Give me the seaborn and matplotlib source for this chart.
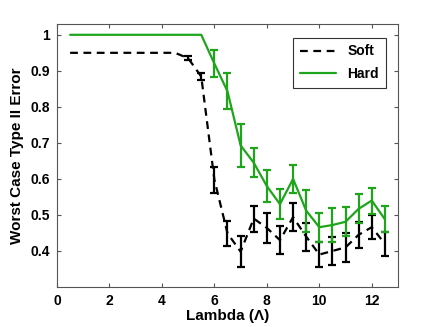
import numpy as np
import pandas as pd
import matplotlib
matplotlib.use("Agg")
import matplotlib.pyplot as plt
import seaborn as sns

sns.set_style("white", rc={
    'axes.labelcolor': 'black',
    'text.color': 'black',
    'xtick.color': 'black',
    'ytick.color': 'black',
})
plt.rcParams['font.family'] = ['Liberation Sans', 'DejaVu Sans']
plt.rcParams['font.weight'] = 'bold'

lam = [0.5, 1, 1.5, 2, 2.5, 3, 3.5, 4, 4.5, 5, 5.5, 6, 6.5, 7, 7.5, 8, 8.5,
       9, 9.5, 10, 10.5, 11, 11.5, 12, 12.5]

soft = [0.95, 0.95, 0.95, 0.95, 0.95, 0.95, 0.95, 0.95, 0.95, 0.935, 0.884,
        0.598, 0.449, 0.398, 0.49, 0.464, 0.43, 0.494, 0.44, 0.39, 0.40,
        0.41, 0.445, 0.466, 0.42]
soft_err = [0, 0, 0, 0, 0, 0, 0, 0, 0, 0.005, 0.01,
            0.036, 0.035, 0.043, 0.036, 0.041, 0.038, 0.038, 0.039, 0.034,
            0.04, 0.04, 0.036, 0.034, 0.033]

hard = [1, 1, 1, 1, 1, 1, 1, 1, 1, 1, 1,
        0.92, 0.843, 0.693, 0.645, 0.58, 0.53, 0.6, 0.512, 0.466, 0.472,
        0.481, 0.517, 0.54, 0.488]
hard_err = [0, 0, 0, 0, 0, 0, 0, 0, 0, 0, 0,
            0.037, 0.05, 0.059, 0.04, 0.045, 0.042, 0.04, 0.058, 0.04,
            0.046, 0.04, 0.04, 0.036, 0.036]

df = pd.DataFrame({'lam': lam, 'Soft': soft, 'Hard': hard})

green = '#1fa51c'

fig = plt.figure(figsize=(4.39, 3.27), dpi=100)
ax = fig.add_axes([57 / 439, 40 / 327, 341 / 439, 263 / 327])

sns.lineplot(data=df, x='lam', y='Soft', ax=ax, color='black', lw=1.6,
             linestyle=(0, (3.5, 2.5)), label='Soft')
sns.lineplot(data=df, x='lam', y='Hard', ax=ax, color=green, lw=1.6,
             label='Hard')

lam_a = np.array(lam)
se = np.array(soft_err)
he = np.array(hard_err)
m = se > 0
ax.errorbar(lam_a[m], np.array(soft)[m], yerr=se[m], fmt='none',
            ecolor='black', elinewidth=1.6, capsize=3, capthick=1.6)
m = he > 0
ax.errorbar(lam_a[m], np.array(hard)[m], yerr=he[m], fmt='none',
            ecolor=green, elinewidth=1.6, capsize=3, capthick=1.6)

ax.set_xlim(0, 13)
ax.set_ylim(0.3, 1.03)
ax.set_xticks([0, 2, 4, 6, 8, 10, 12])
ax.set_yticks([0.4, 0.5, 0.6, 0.7, 0.8, 0.9, 1.0])
ax.set_yticklabels(['0.4', '0.5', '0.6', '0.7', '0.8', '0.9', '1'])
ax.tick_params(direction='in', length=3, top=True, right=True,
               bottom=True, left=True, labelsize=10, labelcolor='black',
               color='#555555', pad=5)
for s in ax.spines.values():
    s.set_color('#555555')
    s.set_linewidth(0.8)

ax.set_xlabel('Lambda (\u039b)', fontsize=11, fontweight='bold', labelpad=1)
ax.set_ylabel('Worst Case Type II Error', fontsize=11, fontweight='bold',
              labelpad=5)

leg = ax.legend(loc='upper right', fontsize=10, frameon=True, fancybox=False,
                edgecolor='black', handlelength=2.6, borderpad=0.5,
                labelspacing=0.6, bbox_to_anchor=(0.985, 0.975))
leg.get_frame().set_linewidth(0.8)

fig.savefig('out.png', dpi=100)
